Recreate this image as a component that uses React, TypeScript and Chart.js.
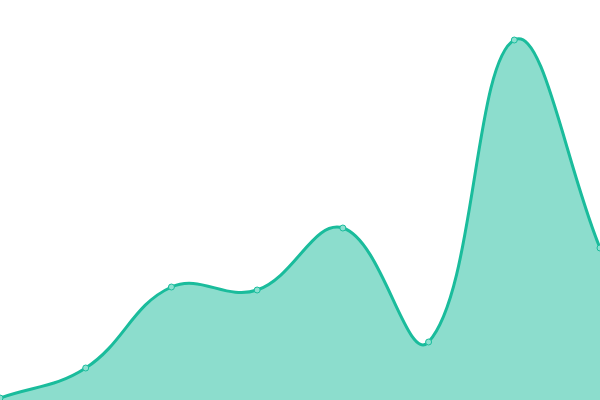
import React, { useEffect, useRef } from 'react';
import { Chart, registerables } from 'chart.js';

Chart.register(...registerables);

const labels = ['1', '2', '3', '4', '5', '6', '7', '8'];
const values = [2, 32, 113, 110, 172, 58, 360, 152];

function App() {
  const chartRef = useRef<HTMLCanvasElement>(null);
  const chartInstance = useRef<Chart>();

  useEffect(() => {
    document.body.style.margin = '0';
    if (chartRef.current) {
      const ctx = chartRef.current.getContext('2d');
      if (ctx) {
        if (chartInstance.current) chartInstance.current.destroy();
        chartInstance.current = new Chart(ctx, {
          type: 'line',
          data: {
            labels,
            datasets: [{
              data: values,
              fill: true,
              tension: 0.4,
              borderColor: '#1abc9c',
              backgroundColor: 'rgba(26, 188, 156, 0.5)',
              borderWidth: 3,
              pointRadius: 3,
              pointBorderWidth: 1,
              pointBackgroundColor: 'rgba(140, 224, 208, 1)',
              pointBorderColor: '#1abc9c'
            }]
          },
          options: {
            responsive: false,
            animation: false,
            layout: { padding: 0, autoPadding: false },
            plugins: {
              legend: { display: false },
              tooltip: { enabled: false }
            },
            scales: {
              x: { display: false },
              y: { display: false, min: 0, max: 400 }
            }
          }
        });
      }
    }
    return () => {
      if (chartInstance.current) {
        chartInstance.current.destroy();
        chartInstance.current = undefined;
      }
    };
  }, []);

  return (
    <div style={{ width: '600px', height: '400px' }}>
      <canvas ref={chartRef} width={600} height={400}></canvas>
    </div>
  );
}

export default App;
